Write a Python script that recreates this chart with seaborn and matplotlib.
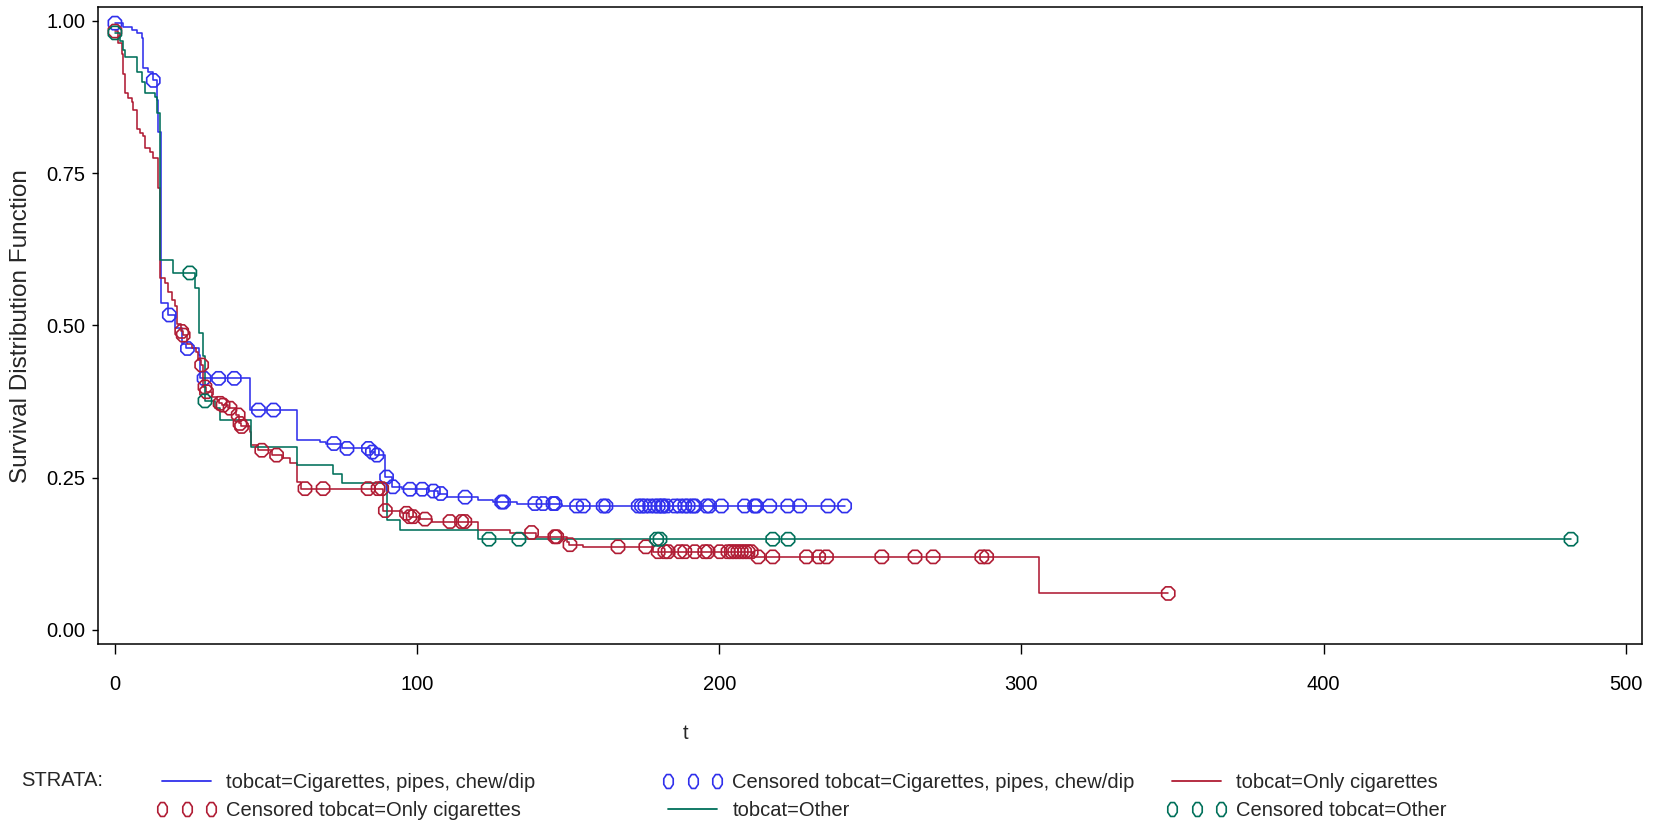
#!/usr/bin/env python
"""
  Kaplan-Meier survival curves by tobacco category (SAS style)
"""

import matplotlib

matplotlib.use("Agg")
import matplotlib.pyplot as plt
from matplotlib.lines import Line2D
from matplotlib.path import Path
import numpy as np
import pandas as pd
import seaborn as sns

STRATA = ["Cigarettes, pipes, chew/dip", "Only cigarettes", "Other"]
COLORS = ["#3030EC", "#B01C34", "#00705A"]

# step points: time where the curve changes, survival after that time
t_cig_pipes = [0, 2.8, 5.5, 7.2, 8.8, 9.4, 11.0, 12.7, 13.8, 14.3, 15.1, 17.5, 20.0,
               22.2, 23.5, 27.7, 28.0, 44.7, 60.1, 67.9, 70.0, 75.0, 84.5, 86.0, 89.5,
               91.6, 95.0, 104.0, 107.0, 110.0, 120.0, 125.0, 133.0, 148.0]
s_cig_pipes = [0.996, 0.990, 0.985, 0.979, 0.971, 0.922, 0.916, 0.902, 0.870, 0.818,
               0.537, 0.517, 0.495, 0.470, 0.462, 0.451, 0.413, 0.361, 0.312, 0.309,
               0.306, 0.298, 0.292, 0.287, 0.251, 0.235, 0.231, 0.228, 0.224, 0.218,
               0.214, 0.210, 0.2075, 0.2035]
c_cig_pipes = [0, 12.7, 18, 24, 29.5, 34.3, 39.5, 47.5, 52.5, 72.5, 76.8, 83.9, 85.2,
               86.7, 89.9, 92, 97.7, 101.7, 105.4, 107.8, 115.9, 128, 128.6, 139,
               141.7, 145, 145.6, 152.8, 155, 161.6, 162.5, 173.2, 174.3, 175.4, 177.0,
               178.7, 179.8, 180.9, 181.4, 182.6, 185.3, 186.9, 188.6, 189.7, 191.3,
               191.9, 195.8, 196.8, 200.7, 208.4, 211.7, 212.3, 216.7, 222.7, 226.6,
               236.0, 241.5]

t_only_cig = [0, 1.1, 2.2, 2.8, 3.3, 4.4, 5.5, 6.1, 7.2, 8.3, 9.4, 9.9, 11.6, 12.7,
              14.3, 15.0, 16.5, 17.6, 18.8, 19.9, 20.4, 21.8, 22.4, 23.7, 25.4, 27.0,
              27.6, 28.4, 29.2, 30.0, 32.0, 33.7, 34.5, 35.5, 37.5, 40.0, 41.2, 41.7,
              44.7, 45.2, 47.5, 52.0, 55.2, 57.9, 60.1, 61.5, 88.8, 95.0, 97.3, 101.0,
              105.0, 120.2, 130.7, 139.5, 149.5, 150.3, 155.0, 178.0, 211.5, 305.9]
s_only_cig = [0.983, 0.963, 0.946, 0.913, 0.881, 0.873, 0.867, 0.853, 0.823, 0.815,
              0.810, 0.791, 0.785, 0.774, 0.725, 0.577, 0.569, 0.555, 0.542, 0.531,
              0.503, 0.490, 0.484, 0.470, 0.462, 0.457, 0.443, 0.435, 0.399, 0.391,
              0.383, 0.377, 0.372, 0.369, 0.364, 0.353, 0.339, 0.334, 0.325, 0.304,
              0.295, 0.287, 0.282, 0.274, 0.243, 0.232, 0.196, 0.1915, 0.186, 0.182,
              0.178, 0.164, 0.160, 0.153, 0.145, 0.140, 0.1365, 0.1285, 0.120, 0.060]
c_only_cig = [0, 22.1, 22.6, 28.7, 29.8, 30.3, 34.8, 35.8, 38.1, 40.8, 41.4, 41.9, 48.6,
              53.5, 62.9, 68.9, 83.8, 87.1, 88.3, 89.5, 96.5, 97.6, 98.7, 102.6, 110.9,
              114.7, 115.8, 137.9, 145.6, 146.2, 150.6, 166.5, 175.7, 179.8, 182.0,
              183.1, 186.9, 188.6, 191.9, 195.2, 196.3, 200.2, 202.9, 204.0, 205.1,
              206.2, 207.3, 208.4, 209.5, 210.6, 212.9, 217.7, 228.9, 232.9, 235.5,
              253.8, 264.8, 270.8, 286.9, 288.5, 348.6]

t_other = [0, 1.65, 2.8, 3.3, 7.2, 8.8, 9.9, 13.2, 13.8, 14.9, 19.3, 26.5, 27.9, 29.3,
           29.8, 33.1, 34.8, 44.9, 60.1, 72.3, 75.0, 89.9, 94.3, 120.2]
s_other = [0.980, 0.966, 0.952, 0.941, 0.916, 0.900, 0.881, 0.875, 0.848, 0.607, 0.586,
           0.561, 0.487, 0.450, 0.376, 0.364, 0.345, 0.301, 0.271, 0.256, 0.241, 0.181,
           0.164, 0.149]
c_other = [0, 24.8, 29.8, 123.8, 133.7, 179.3, 180.4, 217.7, 222.8, 481.9]

X_TICKS = [0, 100, 200, 300, 400, 500]
Y_TICKS = [0.0, 0.25, 0.5, 0.75, 1.0]

FS = 14.5
W, H = 1662, 824


def build_frames():
    curves = [(t_cig_pipes, s_cig_pipes, c_cig_pipes),
              (t_only_cig, s_only_cig, c_only_cig),
              (t_other, s_other, c_other)]
    lines, cens = [], []
    for name, (t, s, c) in zip(STRATA, curves):
        # extend the last step out to the last censored time
        tt = list(t) + [max(c)]
        ss = list(s) + [s[-1]]
        lines.append(pd.DataFrame({"t": tt, "surv": ss, "strata": name}))
        idx = np.searchsorted(np.array(t), np.array(c), side="right") - 1
        cens.append(pd.DataFrame({"t": c, "surv": np.array(s)[idx], "strata": name}))
    return pd.concat(lines, ignore_index=True), pd.concat(cens, ignore_index=True)


def legend_marker():
    """Tall octagon like SAS's censor symbol in the legend"""
    ang = np.deg2rad(22.5 + 45 * np.arange(9))
    verts = np.column_stack([0.68 * np.cos(ang), np.sin(ang)])
    return Path(verts, closed=True)


def main():
    sns.set_theme(style="ticks")
    plt.rcParams["font.family"] = ["Liberation Sans", "DejaVu Sans"]

    lines, cens = build_frames()
    palette = dict(zip(STRATA, COLORS))

    fig = plt.figure(figsize=(W / 100, H / 100), dpi=100)
    left, right, top, bottom = 98.3, 1641.7, 7.3, 644.0
    ax = fig.add_axes([left / W, 1 - bottom / H, (right - left) / W, (bottom - top) / H])

    sns.lineplot(data=lines, x="t", y="surv", hue="strata", palette=palette,
                 estimator=None, sort=False, drawstyle="steps-post",
                 linewidth=1.15, legend=False, ax=ax)
    for name, col in palette.items():
        sub = cens[cens["strata"] == name]
        sns.scatterplot(x=sub["t"], y=sub["surv"], ax=ax, marker="8", s=105,
                        color=col, facecolors="none", edgecolor=col,
                        linewidth=1.2, legend=False, zorder=3)

    ax.set_xlim(-5.5, 505.3)
    ax.set_ylim(-0.023, 1.022)
    ax.set_xticks(X_TICKS)
    ax.set_yticks(Y_TICKS)
    ax.set_yticklabels([f"{v:.2f}" for v in Y_TICKS])
    ax.tick_params(axis="x", direction="out", length=7.2, width=1.0, pad=15,
                   labelsize=FS, colors="black")
    ax.tick_params(axis="y", direction="out", length=4.5, width=1.0, pad=5,
                   labelsize=FS, colors="black")
    for sp in ax.spines.values():
        sp.set_visible(True)
        sp.set_color("black")
        sp.set_linewidth(1.1)

    ax.set_xlabel("t", fontsize=FS)
    ax.xaxis.set_label_coords((686 - left) / (right - left), (bottom - 724) / (bottom - top))
    ax.set_ylabel("Survival Distribution Function", fontsize=17.5)
    ax.yaxis.set_label_coords(-0.043, 0.5)

    # legend laid out like SAS: three equal columns, row-major order
    mk = legend_marker()

    def line_h(c):
        return Line2D([], [], color=c, lw=1.3)

    def cens_h(c):
        return Line2D([], [], ls="none", marker=mk, ms=10, mfc="none", mec=c, mew=1.2)

    cols = [
        ([line_h(COLORS[0]), cens_h(COLORS[1])],
         [f"tobcat={STRATA[0]}", f"Censored tobcat={STRATA[1]}"], 156),
        ([cens_h(COLORS[0]), line_h(COLORS[2])],
         [f"Censored tobcat={STRATA[0]}", f"tobcat={STRATA[2]}"], 662),
        ([line_h(COLORS[1]), cens_h(COLORS[2])],
         [f"tobcat={STRATA[1]}", f"Censored tobcat={STRATA[2]}"], 1166),
    ]
    for handles, labels, x0 in cols:
        fig.legend(handles, labels, loc="upper left",
                   bbox_to_anchor=(x0 / W, 1 - 773 / H), frameon=False,
                   fontsize=FS, numpoints=3, handlelength=3.05,
                   handletextpad=0.45, labelspacing=0.43,
                   borderpad=0, borderaxespad=0)
    fig.text(21 / W, 1 - 781 / H, "STRATA:", fontsize=FS, ha="left", va="center")

    fig.savefig("out.png", dpi=100, facecolor="white")


if __name__ == "__main__":
    main()
